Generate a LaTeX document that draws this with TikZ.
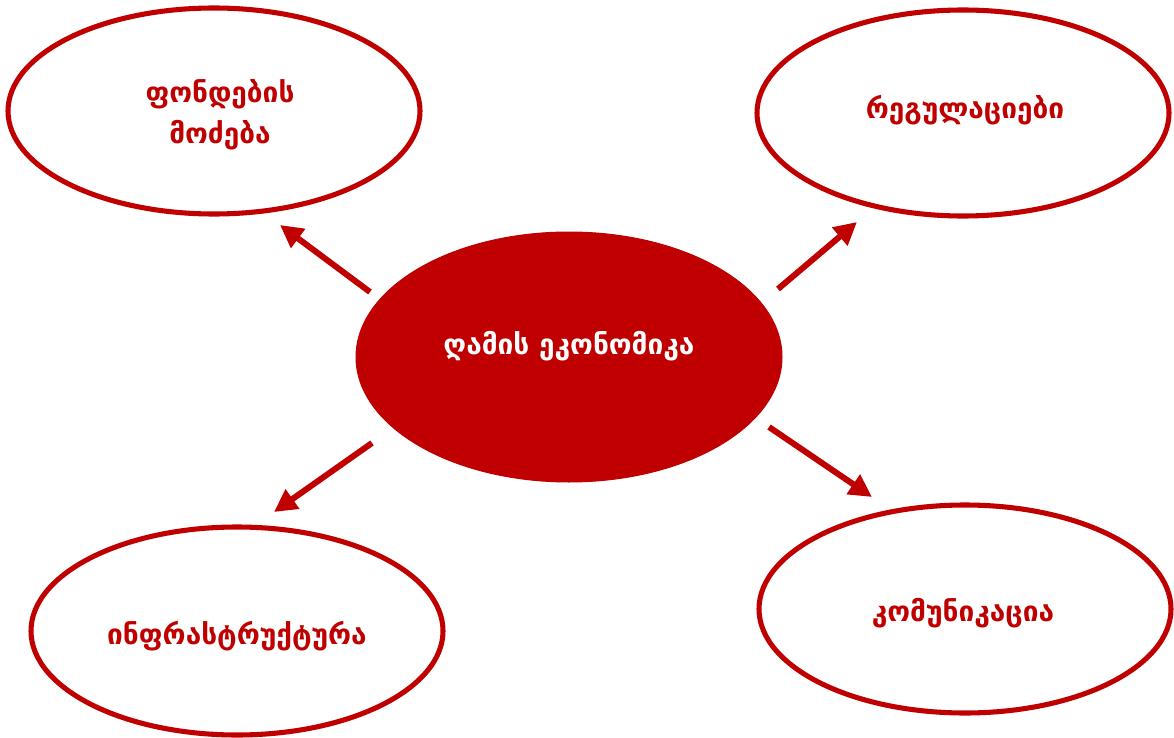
\documentclass[tikz,border=0pt]{standalone}
\usepackage{fontspec}
\newfontfamily\geofont{DejaVu Sans}
\usetikzlibrary{arrows.meta}
\definecolor{darkred}{RGB}{192,0,0}

\tikzset{every picture/.style={line width=0.75pt}}
\tikzset{
  goalellipse/.style={draw=darkred, line width=3.8pt, fill=white},
  goallabel/.style={text=darkred, font=\geofont\bfseries\fontsize{21}{31}\selectfont, align=center},
  goalarrow/.style={draw=darkred, line width=4.5pt, -{Triangle[length=17pt,width=17pt]}}
}

\begin{document}
\begin{tikzpicture}[x=0.75pt,y=0.75pt,yscale=-1,xscale=1]
	\useasboundingbox (0,0) rectangle (1174,738);

	%Shape: Ellipse [id:funds] 
	\draw [goalellipse] (214,111) ellipse (206 and 103);
	%Shape: Ellipse [id:rules] 
	\draw [goalellipse] (963,113) ellipse (206 and 103);
	%Shape: Ellipse [id:infra] 
	\draw [goalellipse] (237,631) ellipse (206 and 104);
	%Shape: Ellipse [id:comm] 
	\draw [goalellipse] (965,609) ellipse (206 and 104);
	%Shape: Ellipse [id:night] 
	\draw [fill=darkred, draw=darkred] (569,357) ellipse (213 and 125);

	%Arrow endpoints
	\coordinate (fromtl) at (370,292);
	\coordinate (totl) at (280,225);
	\coordinate (fromtr) at (778,289);
	\coordinate (totr) at (857,222);
	\coordinate (frombl) at (372,443);
	\coordinate (tobl) at (274,512);
	\coordinate (frombr) at (769,427);
	\coordinate (tobr) at (872,497);

	%Straight Lines [id:arrows] 
	\draw [goalarrow] (fromtl) -- (totl);
	\draw [goalarrow] (fromtr) -- (totr);
	\draw [goalarrow] (frombl) -- (tobl);
	\draw [goalarrow] (frombr) -- (tobr);

	% Text Node
	\node [goallabel, text=white] (nightlabel) at (569,346) {ღამის ეკონომიკა};
	% Text Node
	\node [goallabel] (fundslabel) at (220,115) {ფონდების\\მოძება};
	% Text Node
	\node [goallabel] (ruleslabel) at (965,110) {რეგულაციები};
	% Text Node
	\node [goallabel] (infralabel) at (237,636) {ინფრასტრუქტურა};
	% Text Node
	\node [goallabel] (commlabel) at (963,613) {კომუნიკაცია};

\end{tikzpicture}
\end{document}
